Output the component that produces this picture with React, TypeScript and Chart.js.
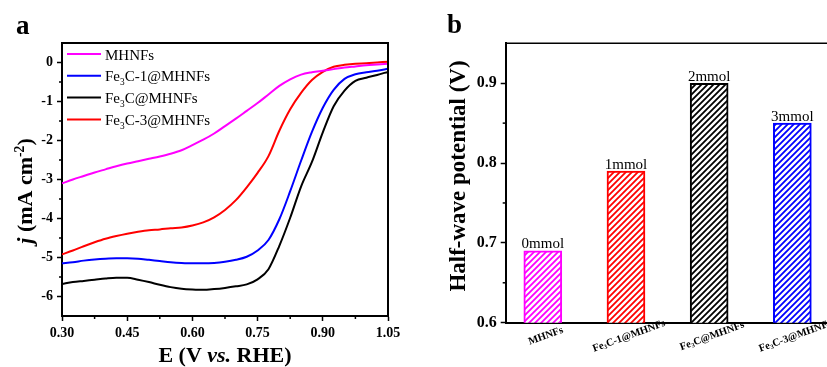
import React, { useEffect, useRef } from "react";
import { Chart, registerables } from "chart.js";
Chart.register(...registerables);

// ---------- Panel a: LSV curves ----------
const POTENTIAL_V = [
  0.3, 0.325, 0.35, 0.375, 0.4, 0.425, 0.45, 0.475, 0.5, 0.525, 0.55, 0.575, 0.6, 0.625, 0.65, 0.675,
  0.7, 0.725, 0.75, 0.775, 0.8, 0.825, 0.85, 0.875, 0.9, 0.925, 0.95, 0.975, 1.0, 1.025, 1.05,
];
const J_MHNFS = [
  -3.1, -3.0, -2.91, -2.82, -2.74, -2.66, -2.59, -2.53, -2.47, -2.41, -2.34, -2.25, -2.12, -1.98, -1.82, -1.63,
  -1.44, -1.24, -1.04, -0.82, -0.6, -0.43, -0.31, -0.25, -0.21, -0.17, -0.13, -0.1, -0.07, -0.05, -0.03,
];
const J_FE3C_1 = [
  -5.15, -5.12, -5.08, -5.05, -5.03, -5.02, -5.02, -5.03, -5.06, -5.09, -5.12, -5.14, -5.15, -5.15, -5.14, -5.11,
  -5.06, -4.98, -4.82, -4.55, -4.02, -3.3, -2.52, -1.78, -1.16, -0.7, -0.42, -0.3, -0.25, -0.21, -0.16,
];
const J_FE3C = [
  -5.68, -5.63, -5.6, -5.57, -5.54, -5.52, -5.52, -5.57, -5.63, -5.7, -5.76, -5.8, -5.82, -5.83, -5.81, -5.78,
  -5.74, -5.69, -5.56, -5.3, -4.7, -3.98, -3.18, -2.55, -1.79, -1.12, -0.72, -0.47, -0.39, -0.32, -0.24,
];
const J_FE3C_3 = [
  -4.92, -4.82, -4.71, -4.61, -4.52, -4.45, -4.39, -4.34, -4.3, -4.28, -4.25, -4.23, -4.18, -4.1, -3.97, -3.78,
  -3.53, -3.2, -2.83, -2.4, -1.75, -1.2, -0.78, -0.45, -0.24, -0.11, -0.06, -0.03, -0.02, 0.0, 0.02,
];
const LINE_NAMES = ["MHNFs", "Fe3C-1@MHNFs", "Fe3C@MHNFs", "Fe3C-3@MHNFs"];
const LINE_COLORS = ["#ff00ff", "#0000ff", "#000000", "#ff0000"];
const LINE_SERIES = [J_MHNFS, J_FE3C_1, J_FE3C, J_FE3C_3];
const X_TICKS = [0.3, 0.45, 0.6, 0.75, 0.9, 1.05];
const Y_TICKS = [-6, -5, -4, -3, -2, -1, 0];

// ---------- Panel b: half-wave potentials ----------
const BAR_CATEGORIES = ["MHNFs", "Fe3C-1@MHNFs", "Fe3C@MHNFs", "Fe3C-3@MHNFs"];
const HALF_WAVE_V = [0.69, 0.79, 0.9, 0.85];
const BAR_NOTES = ["0mmol", "1mmol", "2mmol", "3mmol"];
const BAR_COLORS = ["#ff00ff", "#ff0000", "#000000", "#0000ff"];
const BAR_Y_TICKS = [0.6, 0.7, 0.8, 0.9];

const FAMILY = '"Liberation Serif", "Times New Roman", serif';

type Seg = { t: string; sub?: boolean; sup?: boolean; it?: boolean };

function segFont(s: Seg, size: number, bold: boolean) {
  const sz = s.sub || s.sup ? size * 0.62 : size;
  return `${s.it ? "italic " : ""}${bold ? "bold " : ""}${sz}px ${FAMILY}`;
}
function richWidth(ctx: CanvasRenderingContext2D, segs: Seg[], size: number, bold: boolean) {
  let w = 0;
  for (const s of segs) {
    ctx.font = segFont(s, size, bold);
    w += ctx.measureText(s.t).width;
  }
  return w;
}
function drawRich(
  ctx: CanvasRenderingContext2D,
  segs: Seg[],
  x: number,
  y: number,
  size: number,
  bold: boolean,
  align: "left" | "center" | "right"
) {
  const w = richWidth(ctx, segs, size, bold);
  let cx = align === "center" ? x - w / 2 : align === "right" ? x - w : x;
  ctx.textAlign = "left";
  for (const s of segs) {
    ctx.font = segFont(s, size, bold);
    const dy = s.sub ? size * 0.24 : s.sup ? -size * 0.38 : 0;
    ctx.fillText(s.t, cx, y + dy);
    cx += ctx.measureText(s.t).width;
  }
}
function chem(name: string): Seg[] {
  const parts = name.split("Fe3");
  if (parts.length === 1) return [{ t: name }];
  return [{ t: parts[0] + "Fe" }, { t: "3", sub: true }, { t: parts[1] }];
}
function line(ctx: CanvasRenderingContext2D, x1: number, y1: number, x2: number, y2: number) {
  ctx.beginPath();
  ctx.moveTo(x1, y1);
  ctx.lineTo(x2, y2);
  ctx.stroke();
}
function hatch(color: string): CanvasPattern {
  const s = 6;
  const c = document.createElement("canvas");
  c.width = s;
  c.height = s;
  const g = c.getContext("2d")!;
  g.fillStyle = "#ffffff";
  g.fillRect(0, 0, s, s);
  g.strokeStyle = color;
  g.lineWidth = 1.8;
  g.beginPath();
  g.moveTo(-1, s + 1);
  g.lineTo(s + 1, -1);
  g.moveTo(-1, 1);
  g.lineTo(1, -1);
  g.moveTo(s - 1, s + 1);
  g.lineTo(s + 1, s - 1);
  g.stroke();
  return g.createPattern(c, "repeat")!;
}

const panelAPlugin = {
  id: "panelA",
  afterDraw(chart: any) {
    const { ctx, chartArea: ca, scales } = chart;
    ctx.save();
    ctx.strokeStyle = "#000";
    ctx.fillStyle = "#000";
    ctx.lineWidth = 2;
    ctx.beginPath();
    ctx.moveTo(ca.left, ca.top);
    ctx.lineTo(ca.right, ca.top);
    ctx.lineTo(ca.right, ca.bottom);
    ctx.stroke();
    // minor ticks
    ctx.lineWidth = 1.5;
    for (let i = 0; i < X_TICKS.length - 1; i++) {
      const px = scales.x.getPixelForValue((X_TICKS[i] + X_TICKS[i + 1]) / 2);
      line(ctx, px, ca.bottom, px, ca.bottom + 3);
    }
    for (let i = 0; i < Y_TICKS.length - 1; i++) {
      const py = scales.y.getPixelForValue((Y_TICKS[i] + Y_TICKS[i + 1]) / 2);
      line(ctx, ca.left, py, ca.left - 3, py);
    }
    // legend
    ctx.textBaseline = "alphabetic";
    LINE_NAMES.forEach((name, i) => {
      const ry = 54 + i * 21.8;
      ctx.strokeStyle = LINE_COLORS[i];
      ctx.lineWidth = 2;
      line(ctx, 67, ry, 101, ry);
      ctx.fillStyle = "#000";
      drawRich(ctx, chem(name), 105, ry + 5.5, 15, false, "left");
    });
    // titles
    ctx.fillStyle = "#000";
    drawRich(
      ctx,
      [{ t: "E (V " }, { t: "vs.", it: true }, { t: " RHE)" }],
      (ca.left + ca.right) / 2,
      362,
      22,
      true,
      "center"
    );
    ctx.save();
    ctx.translate(32, 191);
    ctx.rotate(-Math.PI / 2);
    drawRich(
      ctx,
      [{ t: "j", it: true }, { t: " (mA cm" }, { t: "-2", sup: true }, { t: ")" }],
      0,
      0,
      22,
      true,
      "center"
    );
    ctx.restore();
    ctx.font = `bold 27px ${FAMILY}`;
    ctx.textAlign = "left";
    ctx.fillText("a", 16, 34);
    ctx.restore();
  },
};

const panelBPlugin = {
  id: "panelB",
  afterDraw(chart: any) {
    const { ctx, chartArea: ca, scales } = chart;
    ctx.save();
    ctx.strokeStyle = "#000";
    ctx.fillStyle = "#000";
    ctx.lineWidth = 1.5;
    line(ctx, ca.left, ca.top, ca.right + 5, ca.top);
    for (let i = 0; i < BAR_Y_TICKS.length - 1; i++) {
      const py = scales.y.getPixelForValue((BAR_Y_TICKS[i] + BAR_Y_TICKS[i + 1]) / 2);
      line(ctx, ca.left, py, ca.left - 3, py);
    }
    // value notes above bars
    ctx.textBaseline = "alphabetic";
    BAR_NOTES.forEach((note, i) => {
      const px = scales.x.getPixelForValue(i + 1);
      const py = scales.y.getPixelForValue(HALF_WAVE_V[i]);
      drawRich(ctx, [{ t: note }], px, py - 2.5, 15, false, "center");
    });
    // rotated category labels
    ctx.textBaseline = "middle";
    BAR_CATEGORIES.forEach((cat, i) => {
      const px = scales.x.getPixelForValue(i + 1);
      ctx.save();
      ctx.translate(px + 3, 336);
      ctx.rotate((-20 * Math.PI) / 180);
      drawRich(ctx, chem(cat), 0, 0, 10.5, true, "center");
      ctx.restore();
    });
    // y title
    ctx.textBaseline = "alphabetic";
    ctx.save();
    ctx.translate(45, 176);
    ctx.rotate(-Math.PI / 2);
    drawRich(ctx, [{ t: "Half-wave potential (V)" }], 0, 0, 23, true, "center");
    ctx.restore();
    ctx.font = `bold 27px ${FAMILY}`;
    ctx.textAlign = "left";
    ctx.fillText("b", 27, 33);
    ctx.restore();
  },
};

export default function App() {
  const aRef = useRef<HTMLCanvasElement>(null);
  const bRef = useRef<HTMLCanvasElement>(null);

  useEffect(() => {
    Chart.defaults.color = "#000";
    const chartA = new Chart(aRef.current!, {
      type: "line",
      data: {
        datasets: LINE_NAMES.map((name, i) => ({
          label: name,
          data: POTENTIAL_V.map((x, k) => ({ x, y: LINE_SERIES[i][k] })),
          borderColor: LINE_COLORS[i],
          backgroundColor: LINE_COLORS[i],
          borderWidth: 2,
          pointRadius: 0,
          cubicInterpolationMode: "monotone" as const,
          fill: false,
        })),
      },
      options: {
        animation: false,
        responsive: false,
        devicePixelRatio: 1,
        layout: { padding: { left: 0, top: 43, right: 32, bottom: 0 } },
        plugins: { legend: { display: false }, tooltip: { enabled: false } },
        scales: {
          x: {
            type: "linear",
            min: 0.3,
            max: 1.05,
            afterBuildTicks: (s: any) => {
              s.ticks = X_TICKS.map((value) => ({ value }));
            },
            afterFit: (s: any) => {
              s.height = 51;
            },
            ticks: {
              font: { family: FAMILY, size: 14, weight: "bold" },
              color: "#000",
              maxRotation: 0,
              padding: 4,
              callback: (v: any) => Number(v).toFixed(2),
            },
            grid: {
              display: true,
              drawOnChartArea: false,
              drawTicks: true,
              tickLength: 5,
              tickColor: "#000",
              tickWidth: 1.5,
            },
            border: { display: true, color: "#000", width: 2 },
          },
          y: {
            type: "linear",
            min: -6.5,
            max: 0.5,
            afterBuildTicks: (s: any) => {
              s.ticks = Y_TICKS.map((value) => ({ value }));
            },
            afterFit: (s: any) => {
              s.width = 62;
            },
            ticks: {
              font: { family: FAMILY, size: 14, weight: "bold" },
              color: "#000",
              padding: 4,
              callback: (v: any) => String(v),
            },
            grid: {
              display: true,
              drawOnChartArea: false,
              drawTicks: true,
              tickLength: 5,
              tickColor: "#000",
              tickWidth: 1.5,
            },
            border: { display: true, color: "#000", width: 2 },
          },
        },
      },
      plugins: [panelAPlugin],
    } as any);

    const chartB = new Chart(bRef.current!, {
      type: "bar",
      data: {
        datasets: [
          {
            label: "Half-wave potential",
            data: HALF_WAVE_V.map((y, i) => ({ x: i + 1, y })),
            backgroundColor: BAR_COLORS.map((c) => hatch(c)),
            borderColor: BAR_COLORS,
            borderWidth: 2,
            borderSkipped: false,
            barThickness: 38,
          },
        ],
      },
      options: {
        animation: false,
        responsive: false,
        devicePixelRatio: 1,
        layout: { padding: { left: 0, top: 43.3, right: 0, bottom: 0 } },
        plugins: { legend: { display: false }, tooltip: { enabled: false } },
        scales: {
          x: {
            type: "linear",
            offset: false,
            min: 0.554,
            max: 4.573,
            afterBuildTicks: (s: any) => {
              s.ticks = BAR_CATEGORIES.map((_, i) => ({ value: i + 1 }));
            },
            afterFit: (s: any) => {
              s.height = 44.3;
            },
            ticks: { display: false },
            grid: { display: true, offset: false, drawOnChartArea: false, drawTicks: false },
            border: { display: true, color: "#000", width: 2 },
          },
          y: {
            type: "linear",
            min: 0.6,
            max: 0.95,
            afterBuildTicks: (s: any) => {
              s.ticks = BAR_Y_TICKS.map((value) => ({ value }));
            },
            afterFit: (s: any) => {
              s.width = 85.7;
            },
            ticks: {
              font: { family: FAMILY, size: 16, weight: "bold" },
              color: "#000",
              padding: 4,
              callback: (v: any) => Number(v).toFixed(1),
            },
            grid: {
              display: true,
              drawOnChartArea: false,
              drawTicks: true,
              tickLength: 5,
              tickColor: "#000",
              tickWidth: 1.5,
            },
            border: { display: true, color: "#000", width: 2 },
          },
        },
      },
      plugins: [panelBPlugin],
    } as any);

    return () => {
      chartA.destroy();
      chartB.destroy();
    };
  }, []);

  return (
    <div
      style={{
        position: "fixed",
        left: 0,
        top: 0,
        width: 827,
        height: 367,
        overflow: "hidden",
        background: "#fff",
      }}
    >
      <canvas
        ref={aRef}
        width={420}
        height={367}
        style={{ position: "absolute", left: 0, top: 0, width: 420, height: 367 }}
      />
      <canvas
        ref={bRef}
        width={420}
        height={367}
        style={{ position: "absolute", left: 420, top: 0, width: 420, height: 367 }}
      />
    </div>
  );
}
